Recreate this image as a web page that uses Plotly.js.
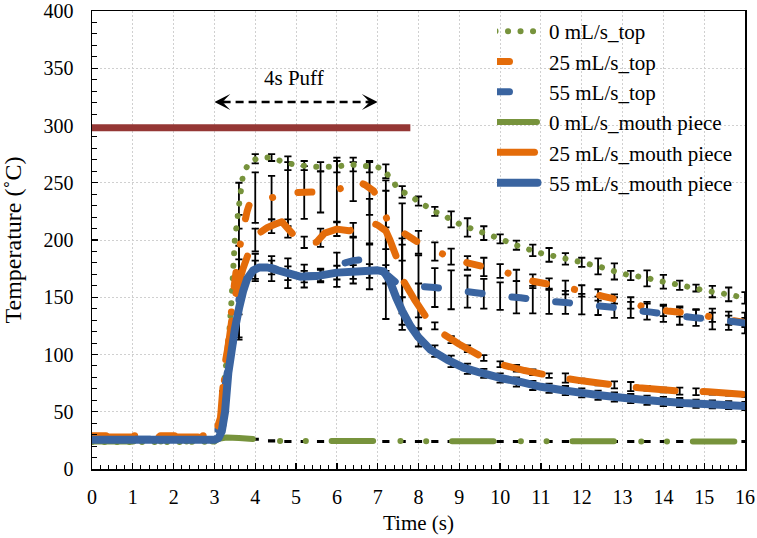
<!DOCTYPE html>
<html><head><meta charset="utf-8">
<script src="https://cdn.plot.ly/plotly-3.0.1.min.js"></script>
<style>
html,body{margin:0;padding:0;background:#fff;}
#chart{width:757px;height:538px;}
path.js-line, .legendlines path{stroke-linecap:round;stroke-linejoin:round;}
.legendlines path{transform:translateX(-6.5px);}
</style></head><body><div id="chart"></div>
<script>
// ---- series: 0 mL/s_top ----
const greenTopT = [0, 1, 2, 3.0, 3.1, 3.2, 3.26, 3.34, 3.42, 3.5, 3.6, 3.7, 3.85, 4.1, 4.4, 4.7, 5.0, 5.5, 6.0, 6.3, 6.6, 7.0, 7.15, 7.3, 7.5, 7.75, 8.0, 8.25, 8.5, 8.8, 9.0, 9.4, 9.7, 10.0, 10.5, 11.0, 11.5, 12.0, 12.5, 13.0, 13.5, 14.0, 14.5, 15.0, 15.5, 16.0];
const greenTopY = [23.5, 23.5, 23.5, 24, 30, 55, 84, 107, 148, 200, 230, 257, 268, 272, 272, 268, 265.5, 264, 264, 266, 265, 263.5, 262, 254, 245, 239, 234, 228, 223, 218, 214, 208.5, 205, 201, 194, 188.5, 184.5, 180.5, 176, 170.5, 167.5, 163.5, 160, 156, 153, 149.5];
// ---- series: 25 mL/s_top ----
const orangeTopT = [0, 1, 2, 3.0, 3.15, 3.25, 3.33, 3.45, 3.55, 3.65, 3.8, 3.9, 4.1, 4.4, 4.7, 5.0, 5.5, 6.0, 6.2, 6.45, 6.7, 6.9, 7.1, 7.3, 7.6, 7.9, 8.2, 8.5, 8.75, 9.2, 9.8, 10.4, 10.8, 11.4, 12.0, 12.5, 13.1, 13.6, 14.1, 14.7, 15.3, 16.0];
const orangeTopY = [29, 29, 29, 29, 40, 80, 105, 150, 178, 200, 225, 236, 238, 237, 239, 241.5, 242, 244, 246, 252, 248, 243, 229, 212, 207, 200, 193.5, 189, 186, 180, 175, 169, 164, 160, 155.5, 151, 146, 141, 138, 136, 132, 128];
// ---- series: 55 mL/s_top ----
const blueTopT = [0, 1, 2, 3.0, 3.15, 3.25, 3.33, 3.45, 3.6, 3.7, 3.8, 4.0, 4.4, 4.8, 5.2, 5.6, 5.95, 6.15, 6.4, 6.65, 6.85, 7.05, 7.25, 7.45, 7.65, 7.9, 8.4, 8.9, 9.4, 10.0, 10.5, 11.0, 11.6, 12.2, 12.7, 13.2, 13.7, 14.3, 14.8, 15.3, 16.0];
const blueTopY = [26, 26, 26, 26.5, 40, 70, 88, 110, 148, 160, 168, 176, 176, 171, 168.5, 169, 172, 179.5, 182, 183, 176, 173.5, 169, 163, 161, 160, 158.5, 156, 154, 151, 149.5, 147, 145.5, 143, 141.5, 139, 137, 134, 132, 130.5, 127.5];
// ---- series: 0 mL/s_mouth piece ----
const greenMouthT = [0, 3.0, 3.1, 3.3, 3.6, 4.0, 4.3, 16];
const greenMouthY = [24, 24, 26.5, 27.5, 27, 26, 24.5, 24];
// ---- series: 25 mL/s_mouth piece ----
const orangeMouthT = [0, 1, 2, 3.0, 3.15, 3.25, 3.35, 3.5, 3.7, 3.85, 3.95, 4.1, 4.3, 4.5, 4.65, 4.85, 5.1, 5.5, 5.7, 6.0, 6.3, 6.55, 6.8, 7.0, 7.2, 7.3, 7.45, 7.6, 7.9, 8.2, 8.6, 9.0, 9.6, 10.0, 10.6, 11.3, 12.0, 12.9, 13.4, 14.4, 15.1, 16.0];
const orangeMouthY = [28, 28, 28, 28, 45, 90, 110, 150, 175, 190, 197, 206, 211, 214, 216, 208, 198, 198, 206, 209.5, 208, 211, 216, 213, 208, 200, 186, 166, 148, 132, 118, 109, 97, 91.5, 86, 81, 77, 73, 71, 68, 67.5, 65];
// ---- series: 55 mL/s_mouth piece ----
const blueMouthT = [0, 1, 2, 3.0, 3.1, 3.18, 3.26, 3.34, 3.42, 3.5, 3.6, 3.7, 3.8, 3.95, 4.1, 4.3, 4.5, 4.8, 5.1, 5.5, 6.0, 6.5, 7.0, 7.15, 7.3, 7.45, 7.6, 7.8, 8.0, 8.3, 8.7, 9.1, 9.5, 10.0, 10.5, 11.0, 11.5, 12.0, 12.5, 13.0, 13.5, 14.0, 14.5, 15.0, 15.5, 16.0];
const blueMouthY = [25.5, 25.5, 25.5, 25.5, 27, 33, 50, 84, 103, 122, 140, 155, 166, 173.5, 176, 176, 174, 171, 168, 168.5, 171.5, 172.5, 173.5, 172.5, 164, 150, 138, 125, 115, 104, 95.5, 88.5, 84.3, 79.5, 76, 71.8, 69, 66.5, 64.2, 62.2, 60.4, 59, 57.6, 56.8, 56, 55];

// ---- error bars (every 0.4 s) ----
const errT = [3.2, 3.6, 4.0, 4.4, 4.8, 5.2, 5.6, 6.0, 6.4, 6.8, 7.2, 7.6, 8.0, 8.4, 8.8, 9.2, 9.6, 10.0, 10.4, 10.8, 11.2, 11.6, 12.0, 12.4, 12.8, 13.2, 13.6, 14.0, 14.4, 14.8, 15.2, 15.6, 16.0];
const greenTopBarY = [55, 230, 271, 272, 267, 265, 264, 264, 266, 264, 260, 242, 234, 225, 218, 211, 206, 201, 195.5, 191, 187, 183.5, 180.5, 177, 172.5, 169, 166.5, 163.5, 160.5, 158, 155, 152.5, 149.5];
const greenTopErr = [6, 20, 4, 3, 6, 4, 4, 5, 6, 5, 6, 5, 4, 4, 7, 8, 6, 4, 4, 5, 6, 5, 4, 7, 7, 4, 7, 6, 4, 3, 5, 6, 5];
const orangeTopBarY = [50, 190, 237, 237, 240, 241.5, 242, 244, 251, 245, 222, 207, 198, 190, 185.5, 180, 176.5, 173, 169, 164, 161.5, 158.5, 155.5, 152, 148.5, 145, 141, 138.5, 137, 135.5, 132.5, 130, 128];
const orangeTopErr = [8, 32, 22, 19, 28, 23, 18, 28, 17, 23, 30, 25, 10, 8, 7, 6, 8, 6, 5, 6, 5, 6, 5, 5, 4, 5, 5, 5, 4, 4, 4, 4, 4];
const blueTopBarY = [45, 148, 176, 175, 171, 168.5, 169, 174, 182, 177, 171, 161.5, 159.5, 158.5, 156.5, 155, 153, 151, 150, 148, 146.5, 145.5, 144, 142.5, 141, 139, 137.5, 135.5, 134, 132, 131, 129.5, 127.5];
const blueTopErr = [6, 35, 12, 11, 13, 10, 6, 15, 20, 20, 40, 40, 27, 17, 17, 14, 13, 12, 14, 12, 11, 10, 9, 8, 9, 7, 7, 7, 8, 7, 9, 8, 9];
const greenMouthBarY = [27, 27, 26, 24.5, 24, 24, 24, 24, 24, 24, 24, 24, 24, 24, 24, 24, 24, 24, 24, 24, 24, 24, 24, 24, 24, 24, 24, 24, 24, 24, 24, 24, 24];
const greenMouthErr = [0.6, 0.6, 0.6, 0.6, 0.6, 0.6, 0.6, 0.6, 0.6, 0.6, 0.6, 0.6, 0.6, 0.6, 0.6, 0.6, 0.6, 0.6, 0.6, 0.6, 0.6, 0.6, 0.6, 0.6, 0.6, 0.6, 0.6, 0.6, 0.6, 0.6, 0.6, 0.6, 0.6];
const orangeMouthBarY = [60, 165, 200, 212, 210, 198, 202, 209.5, 209, 216, 208, 166, 142, 125, 113, 105, 97, 91.5, 88, 84.5, 81.5, 79.5, 77, 75, 73.5, 72, 70.5, 69, 68, 67.5, 67, 66, 65];
const orangeMouthErr = [8, 30, 10, 6, 8, 5, 8, 6, 6, 20, 35, 30, 20, 3, 3, 3, 2.5, 2.5, 3, 2.5, 2, 4, 2, 2, 3, 4, 2, 2, 3, 3, 2, 2, 2];
const blueMouthBarY = [33, 140, 174, 176, 171, 168, 169, 171.5, 172, 173, 170, 138, 115, 103, 94, 87.5, 83.5, 79.5, 76, 73, 70.5, 68.5, 66.5, 64.5, 62.8, 61.5, 60, 59, 58, 57, 56.5, 55.8, 55];
const blueMouthErr = [5, 25, 8, 6, 6, 5, 5, 6, 6, 6, 8, 12, 8, 5, 5, 4.5, 4, 4, 4, 4, 4, 4, 4, 4, 4, 4, 4, 4, 4, 3.5, 3.5, 3.5, 3.5];

// ---- heater reference line and puff marker ----
const heaterX = [0, 7.8];
const heaterY = 298;
const puffX = [3.0, 7.0];
const puffY = 320.5;
const puffLabel = '4s Puff';

const seriesNames = ['0 mL/s_top', '25 mL/s_top', '55 mL/s_top', '0 mL/s_mouth piece', '25 mL/s_mouth piece', '55 mL/s_mouth piece'];

const GREEN = '#77933C', ORANGE = '#E46C0A', BLUE = '#3A64A0', RED = '#953735';

function errTrace(y, e) {
  return {x: errT, y: y, type: 'scatter', mode: 'markers', marker: {size: 1, opacity: 0},
    showlegend: false, hoverinfo: 'skip',
    error_y: {type: 'data', array: e, visible: true, color: '#000', thickness: 1.8, width: 3.6}};
}
function lineTrace(x, y, name, color, width, dash) {
  return {x: x, y: y, type: 'scatter', mode: 'lines', name: name,
    line: {color: color, width: width, dash: dash, simplify: false}};
}

const data = [
  errTrace(greenTopBarY, greenTopErr),
  errTrace(orangeTopBarY, orangeTopErr),
  errTrace(blueTopBarY, blueTopErr),
  errTrace(greenMouthBarY, greenMouthErr),
  errTrace(orangeMouthBarY, orangeMouthErr),
  errTrace(blueMouthBarY, blueMouthErr),
  lineTrace(greenTopT, greenTopY, seriesNames[0], GREEN, 6, '0.1px,12.4px'),
  lineTrace(orangeTopT, orangeTopY, seriesNames[1], ORANGE, 7, '14px,28.6px,0.1px,25.8px'),
  lineTrace(blueTopT, blueTopY, seriesNames[2], BLUE, 7, '14px,30px'),
  lineTrace(greenMouthT, greenMouthY, seriesNames[3], GREEN, 6, '41.5px,27.3px,0.1px,25.6px,0.1px,25.8px'),
  lineTrace(orangeMouthT, orangeMouthY, seriesNames[4], ORANGE, 7, '39px,28px'),
  lineTrace(blueMouthT, blueMouthY, seriesNames[5], BLUE, 8, 'solid')
];

const FONT = 'Liberation Serif, Times New Roman, serif';
const axisCommon = {
  ticks: 'inside', ticklen: 6, tickwidth: 1.3, tickcolor: '#000',
  showline: true, linecolor: '#000', linewidth: 1.5, mirror: true,
  showgrid: true, gridcolor: '#d0d0d0', griddash: '2px,2px', gridwidth: 1,
  zeroline: false, tickfont: {size: 20, family: FONT, color: '#000'}
};

const layout = {
  width: 757, height: 538,
  margin: {l: 92, r: 12, t: 11, b: 68.5},
  paper_bgcolor: '#fff', plot_bgcolor: '#fff',
  font: {family: FONT, size: 20, color: '#000'},
  showlegend: true,
  xaxis: Object.assign({}, axisCommon, {
    range: [0, 16], tick0: 0, dtick: 1, ticklabelstandoff: 9,
    minor: {dtick: 0.2, ticks: 'inside', ticklen: 4.5, tickwidth: 1, tickcolor: '#000', showgrid: false},
    title: {text: 'Time (s)', font: {size: 21, family: FONT}, standoff: 9}
  }),
  yaxis: Object.assign({}, axisCommon, {
    range: [0, 400], tick0: 0, dtick: 50, ticklabelstandoff: 13,
    minor: {dtick: 10, ticks: 'inside', ticklen: 4.5, tickwidth: 1, tickcolor: '#000', showgrid: false},
    title: {text: 'Temperature (˚C)', font: {size: 24, family: FONT}, standoff: 17}
  }),
  legend: {x: 0.6202, y: 1.0, xanchor: 'left', yanchor: 'top', bgcolor: 'rgba(0,0,0,0)',
    font: {size: 21, family: FONT, color: '#000'}, itemwidth: 42, tracegroupgap: 0},
  shapes: [
    {type: 'line', xref: 'x', yref: 'y', x0: heaterX[0], x1: heaterX[1], y0: heaterY, y1: heaterY,
      line: {color: RED, width: 7}},
    {type: 'line', xref: 'x', yref: 'y', x0: puffX[0] + 0.2, x1: puffX[1] - 0.2, y0: puffY, y1: puffY,
      line: {color: '#000', width: 2.6, dash: '8px,5px'}}
  ],
  annotations: [
    {x: (puffX[0] + puffX[1]) / 2 - 0.05, y: puffY + 21, xref: 'x', yref: 'y', text: puffLabel, showarrow: false,
      font: {size: 21, family: FONT, color: '#000'}},
    {x: puffX[0], y: puffY, ax: puffX[0] + 0.3, ay: puffY, xref: 'x', yref: 'y', axref: 'x', ayref: 'y',
      text: '', showarrow: true, arrowhead: 3, arrowsize: 1.1, arrowwidth: 2.4, arrowcolor: '#000'},
    {x: puffX[1], y: puffY, ax: puffX[1] - 0.3, ay: puffY, xref: 'x', yref: 'y', axref: 'x', ayref: 'y',
      text: '', showarrow: true, arrowhead: 3, arrowsize: 1.1, arrowwidth: 2.4, arrowcolor: '#000'}
  ]
};

Plotly.newPlot('chart', data, layout, {displayModeBar: false, staticPlot: true});
</script></body></html>
